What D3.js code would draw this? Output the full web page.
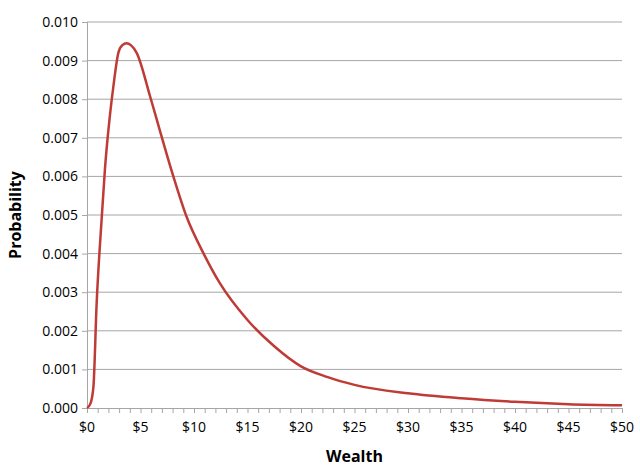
<!DOCTYPE html>
<html>
<head>
<meta charset="utf-8">
<script src="https://cdn.jsdelivr.net/npm/d3@7"></script>
<style>
  body { margin: 0; background: #fff; }
  text { font-family: "Open Sans", sans-serif; }
</style>
</head>
<body>
<svg id="chart" width="640" height="472"></svg>
<script>
// wealth ($) and probability
var wealth = [0, 0.3, 0.6, 0.9, 1.37, 1.68, 2.15, 2.46, 2.93, 3.3, 3.7, 4.1, 4.64, 5.9, 6.8, 8.07, 9.3, 10.9, 12.4, 15, 17.5, 20, 22.5, 25, 30, 35, 40, 45, 50];
var prob   = [0, 0.0001, 0.00055, 0.0027, 0.0049, 0.0062, 0.0076, 0.00832, 0.0092, 0.0094, 0.00945, 0.0094, 0.0092, 0.00807, 0.0072, 0.0060, 0.00496, 0.0040, 0.00324, 0.00228, 0.0016, 0.00108, 0.0008, 0.0006, 0.00038, 0.00025, 0.00016, 0.0001, 0.00007];
var yTicks = [0, 0.001, 0.002, 0.003, 0.004, 0.005, 0.006, 0.007, 0.008, 0.009, 0.010];
var xLabels = [0, 5, 10, 15, 20, 25, 30, 35, 40, 45, 50];

var svg = d3.select("#chart");
var mLeft = 87, mRight = 622, mTop = 22, mBottom = 408;

var x = d3.scaleLinear().domain([0, 50]).range([mLeft, mRight]);
var y = d3.scaleLinear().domain([0, 0.010]).range([mBottom, mTop]);

// gridlines
svg.append("g").selectAll("line")
    .data(yTicks.slice(1))
    .join("line")
    .attr("x1", mLeft).attr("x2", mRight)
    .attr("y1", function(d) { return y(d); })
    .attr("y2", function(d) { return y(d); })
    .style("stroke", "#a6a6a6").style("stroke-width", 1);

// y axis
var yAxis = svg.append("g")
    .attr("transform", "translate(" + mLeft + ",0)")
    .call(d3.axisLeft(y).tickValues(yTicks).tickFormat(d3.format(".3f")).tickSize(5).tickPadding(4));
yAxis.select(".domain").style("stroke", "#a6a6a6");
yAxis.selectAll("line").style("stroke", "#a6a6a6");
yAxis.selectAll("text").style("font-size", "14px").style("fill", "#000")
    .style("font-family", "'Open Sans', sans-serif");

// x axis, minor ticks every $1
var xAxis = svg.append("g")
    .attr("transform", "translate(0," + mBottom + ")")
    .call(d3.axisBottom(x).tickValues(d3.range(0, 51)).tickSize(5).tickFormat(""));
xAxis.select(".domain").style("stroke", "#a6a6a6");
xAxis.selectAll("line").style("stroke", "#a6a6a6");

svg.append("g").selectAll("text")
    .data(xLabels)
    .join("text")
    .attr("x", function(d) { return x(d); })
    .attr("y", mBottom + 24)
    .attr("text-anchor", "middle")
    .style("font-size", "14px")
    .text(function(d) { return "$" + d; });

// titles
svg.append("text")
    .attr("x", (mLeft + mRight) / 2).attr("y", 462)
    .attr("text-anchor", "middle")
    .style("font-size", "16px").style("font-weight", "bold")
    .text("Wealth");
svg.append("text")
    .attr("transform", "translate(21," + (mTop + mBottom) / 2 + ") rotate(-90)")
    .attr("text-anchor", "middle")
    .style("font-size", "16px").style("font-weight", "bold")
    .text("Probability");

// curve
var line = d3.line()
    .x(function(d, i) { return x(wealth[i]); })
    .y(function(d) { return y(d); })
    .curve(d3.curveMonotoneX);

svg.append("path")
    .datum(prob)
    .attr("d", line)
    .style("fill", "none")
    .style("stroke", "#be3b36")
    .style("stroke-width", 2.5);
</script>
</body>
</html>
